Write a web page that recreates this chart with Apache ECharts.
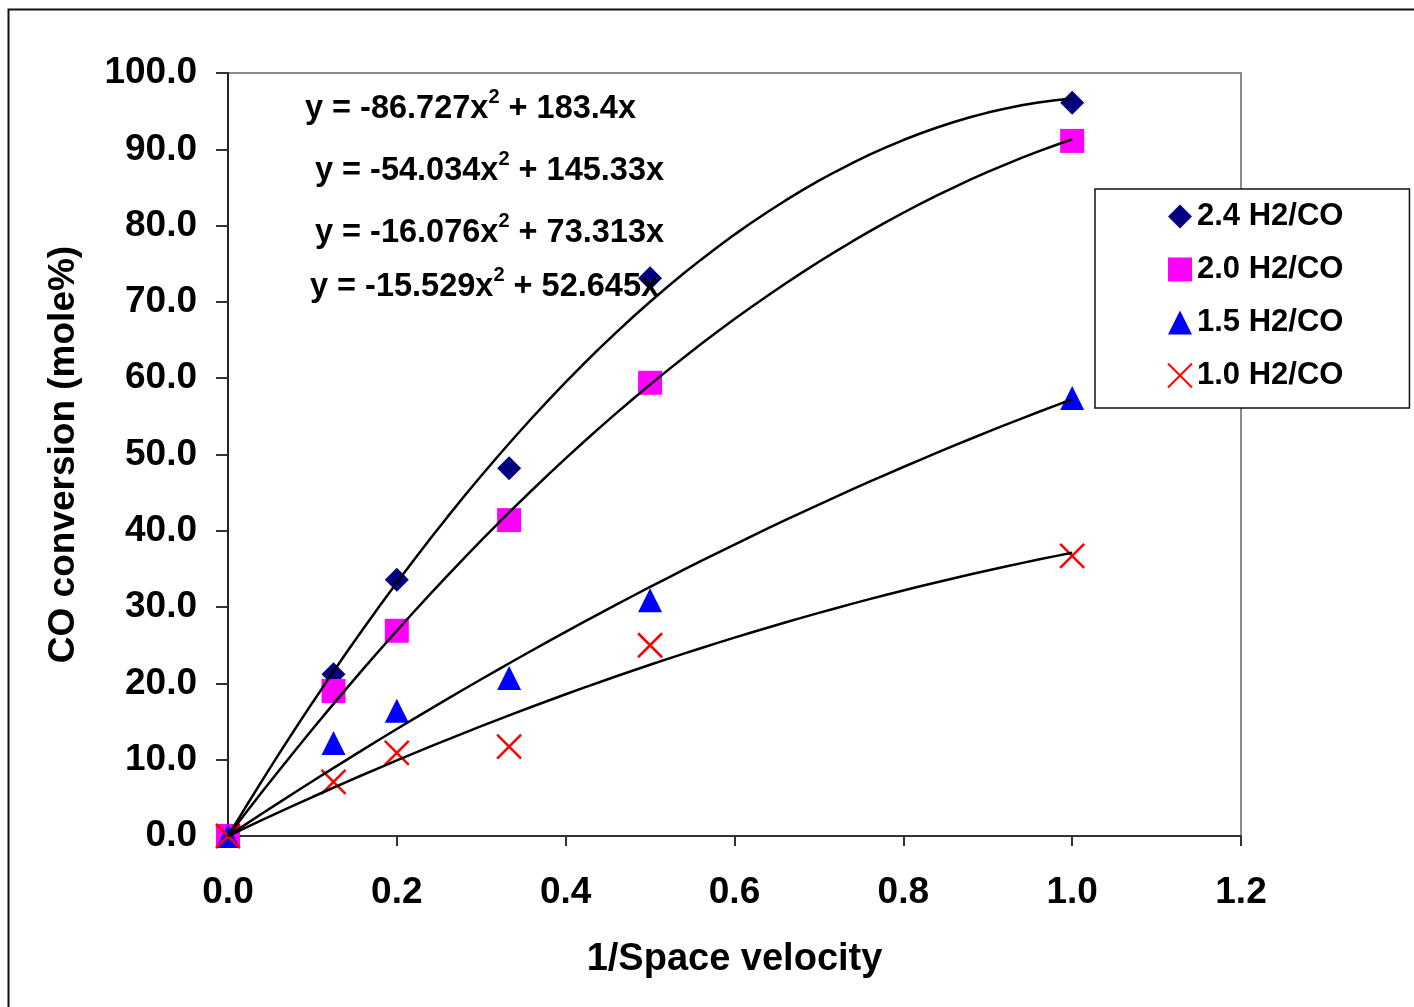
<!DOCTYPE html>
<html>
<head>
<meta charset="utf-8">
<script src="https://cdn.jsdelivr.net/npm/echarts@6/dist/echarts.min.js"></script>
<style>
html,body{margin:0;padding:0;background:#fff;}
#chart{width:1414px;height:1007px;}
</style>
</head>
<body>
<div id="chart"></div>
<script>
// ---- data ----
var xValues = [0, 0.125, 0.2, 0.333, 0.5, 1.0];
var seriesNames = ['2.4 H2/CO', '2.0 H2/CO', '1.5 H2/CO', '1.0 H2/CO'];
var conv24 = [0, 21.2, 33.6, 48.2, 73.1, 96.1];
var conv20 = [0, 19.0, 26.9, 41.4, 59.4, 91.1];
var conv15 = [0, 12.2, 16.4, 20.7, 30.9, 57.4];
var conv10 = [0, 7.1, 10.9, 11.7, 25.0, 36.7];
// trendline coefficients as printed in the chart (y = a x^2 + b x)
var trendA = [-86.727, -54.034, -16.076, -15.529];
var trendB = [183.4, 145.33, 73.313, 52.645];
var eqLabels = [
  ['y = -86.727x', ' + 183.4x'],
  ['y = -54.034x', ' + 145.33x'],
  ['y = -16.076x', ' + 73.313x'],
  ['y = -15.529x', ' + 52.645x']
];
var xTicks = [0, 0.2, 0.4, 0.6, 0.8, 1.0, 1.2];
var yTicks = [0, 10, 20, 30, 40, 50, 60, 70, 80, 90, 100];

var allConv = [conv24, conv20, conv15, conv10];
var colors = ['#000080', '#FF00FF', '#0000FF', '#FF0000'];
var symbols = ['diamond', 'rect', 'triangle', 'path://M0,0L10,10M10,0L0,10'];

var FONT = 'Liberation Sans, Arial, sans-serif';

function pairs(xs, ys) {
  return xs.map(function (x, i) { return [x, ys[i]]; });
}
function trendData(k) {
  var pts = [];
  for (var i = 0; i <= 50; i++) {
    var x = i / 50;
    pts.push([x, trendA[k] * x * x + trendB[k] * x]);
  }
  return pts;
}

var series = [];
allConv.forEach(function (ys, k) {
  var isCross = k === 3;
  series.push({
    name: seriesNames[k],
    type: 'scatter',
    symbol: symbols[k],
    symbolSize: 24,
    data: pairs(xValues, ys),
    z: 3,
    itemStyle: isCross
      ? { color: colors[k], borderColor: colors[k], borderWidth: 2.5, opacity: 1 }
      : { color: colors[k], opacity: 1 }
  });
});
allConv.forEach(function (ys, k) {
  series.push({
    name: 'trend' + k,
    type: 'line',
    data: trendData(k),
    showSymbol: false,
    symbol: 'none',
    smooth: false,
    z: 5,
    silent: true,
    lineStyle: { color: '#000', width: 2.5 }
  });
});

var eqPos = [[305, 87], [315, 149], [315, 211], [310, 265]];
var graphics = [{
  type: 'rect',
  left: 6, top: 7,
  shape: { width: 1430, height: 1020 },
  style: { fill: 'none', stroke: '#111', lineWidth: 2 },
  silent: true, z: 0
}];
eqLabels.forEach(function (e, i) {
  graphics.push({
    type: 'text',
    left: eqPos[i][0], top: eqPos[i][1],
    z: 10,
    style: {
      text: '{n|' + e[0] + '}{s|2}{n|' + e[1] + '}',
      rich: {
        n: { fontFamily: FONT, fontWeight: 'bold', fontSize: 32.5, lineHeight: 39, fill: '#000', verticalAlign: 'bottom' },
        s: { fontFamily: FONT, fontWeight: 'bold', fontSize: 20, lineHeight: 39, fill: '#000', verticalAlign: 'top' }
      }
    }
  });
});

var option = {
  backgroundColor: '#fff',
  animation: false,
  grid: {
    left: 228, top: 73, right: 173, bottom: 171,
    show: true, borderColor: '#8c8c8c', borderWidth: 2, backgroundColor: '#fff'
  },
  legend: {
    orient: 'vertical',
    left: 1095, top: 189,
    padding: [12, 66, 17, 72],
    itemGap: 22,
    itemWidth: 24, itemHeight: 24,
    backgroundColor: '#fff',
    borderColor: '#111', borderWidth: 1.5,
    data: seriesNames,
    textStyle: { fontFamily: FONT, fontWeight: 'bold', fontSize: 31, color: '#000', lineHeight: 30 },
    z: 20
  },
  xAxis: {
    type: 'value',
    min: xTicks[0], max: xTicks[xTicks.length - 1], interval: 0.2,
    name: '1/Space velocity',
    nameLocation: 'middle',
    nameGap: 105,
    nameTextStyle: { fontFamily: FONT, fontWeight: 'bold', fontSize: 38, color: '#000' },
    axisLine: { show: true, lineStyle: { color: '#333', width: 2 } },
    axisTick: { show: true, length: 10, lineStyle: { color: '#333', width: 2 } },
    axisLabel: {
      margin: 38,
      fontFamily: FONT, fontWeight: 'bold', fontSize: 37, color: '#000',
      formatter: function (v) { return v.toFixed(1); }
    },
    splitLine: { show: false }
  },
  yAxis: {
    type: 'value',
    min: yTicks[0], max: yTicks[yTicks.length - 1], interval: 10,
    name: 'CO conversion (mole%)',
    nameLocation: 'middle',
    nameGap: 146,
    nameTextStyle: { fontFamily: FONT, fontWeight: 'bold', fontSize: 37, color: '#000' },
    axisLine: { show: true, lineStyle: { color: '#222', width: 2 } },
    axisTick: { show: true, length: 12, lineStyle: { color: '#333', width: 2 } },
    axisLabel: {
      margin: 31,
      fontFamily: FONT, fontWeight: 'bold', fontSize: 37, color: '#000',
      formatter: function (v) { return v.toFixed(1); }
    },
    splitLine: { show: false }
  },
  graphic: graphics,
  series: series
};

var chart = echarts.init(document.getElementById('chart'), null, { renderer: 'canvas' });
chart.setOption(option);
</script>
</body>
</html>
